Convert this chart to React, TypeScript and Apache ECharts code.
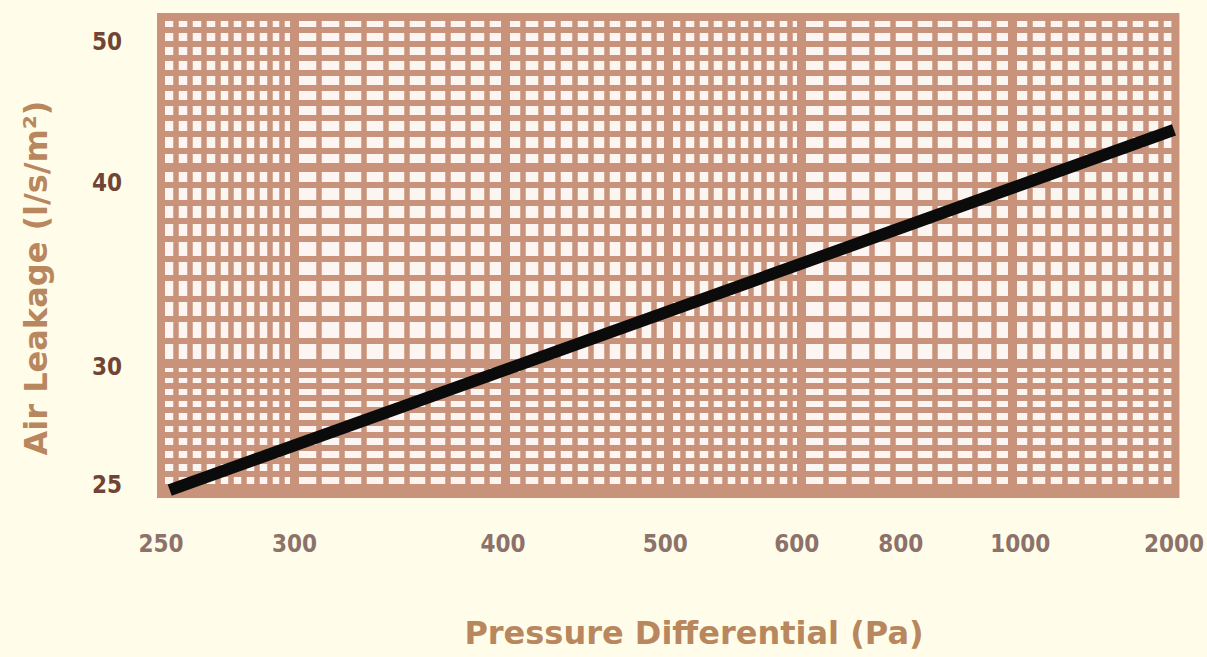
import React, { useEffect, useRef } from "react";
import * as echarts from "echarts";

// ---- data ----
const pressureTicks = [250, 300, 400, 500, 600, 800, 1000, 2000];
const leakageTicks = [25, 30, 40, 50];
const linePressure = [253, 2000];
const lineLeakage = [24.8, 43.5];

// ---- graph-paper rulings (paper units) ----
const paperXMajor = [300, 400, 500, 600, 800];
const paperYMajor = [30, 40];
const paperXFineRanges = [
  [250, 300, 5],
  [300, 600, 10],
  [600, 1000, 20],
];
const paperYFineRanges = [
  [25, 30, 0.5],
  [30, 50, 1],
];

// ---- layout: paper extents and where the printed labels sit on the paper ----
const PAPER_X = [250, 1000];
const PAPER_Y = [24.75, 49.9];
const xLabelAnchor = [250, 300, 399, 498, 596, 687, 809, 998];
const yLabelAnchor = [25.08, 29.83, 39.1, 48.1];

const BROWN = "#c8937a";
const PAPER_WHITE = "#fdf5f1";
const BG = "#fffde9";

const L = (v: number) => Math.log10(v);

function expandRanges(ranges: number[][]) {
  const out: number[] = [];
  ranges.forEach(([a, b, s]) => {
    const n = Math.round((b - a) / s);
    for (let i = 0; i <= n; i++) {
      const v = +(a + i * s).toFixed(4);
      if (out.indexOf(v) < 0) out.push(v);
    }
  });
  return out;
}

// piecewise log mapping from printed-label scale onto the paper (log10 units)
function toPaper(v: number, ticks: number[], anchors: number[]) {
  let i = 0;
  while (i < ticks.length - 2 && v > ticks[i + 1]) i++;
  const t = (L(v) - L(ticks[i])) / (L(ticks[i + 1]) - L(ticks[i]));
  return L(anchors[i]) + t * (L(anchors[i + 1]) - L(anchors[i]));
}

function labelFor(v: number, ticks: number[], anchors: number[]) {
  let best = 0;
  let bd = Infinity;
  anchors.forEach((a, i) => {
    const d = Math.abs(L(a) - v);
    if (d < bd) {
      bd = d;
      best = i;
    }
  });
  return String(ticks[best]);
}

const TICK_FONT = "'Liberation Sans Narrow', 'DejaVu Sans Condensed', 'Roboto', sans-serif";
const TITLE_FONT = "'DejaVu Sans', 'Liberation Sans', sans-serif";

export default function App() {
  const ref = useRef<HTMLDivElement>(null);

  useEffect(() => {
    if (!ref.current) return;
    const chart = echarts.init(ref.current, null, { renderer: "svg" });

    const xFine = expandRanges(paperXFineRanges);
    const yFine = expandRanges(paperYFineRanges);

    const hiddenX = (vals: number[], width: number) => ({
      type: "value",
      min: L(PAPER_X[0]),
      max: L(PAPER_X[1]),
      axisLine: { show: false },
      axisLabel: { show: false },
      axisTick: { show: false, customValues: vals.map(L) },
      splitLine: { show: true, lineStyle: { color: BROWN, width } },
    });
    const hiddenY = (vals: number[], width: number) => ({
      type: "value",
      min: L(PAPER_Y[0]),
      max: L(PAPER_Y[1]),
      axisLine: { show: false },
      axisLabel: { show: false },
      axisTick: { show: false, customValues: vals.map(L) },
      splitLine: { show: true, lineStyle: { color: BROWN, width } },
    });

    const lineData = linePressure.map((p, i) => [
      toPaper(p, pressureTicks, xLabelAnchor),
      toPaper(lineLeakage[i], leakageTicks, yLabelAnchor),
    ]);

    chart.setOption({
      animation: false,
      backgroundColor: BG,
      grid: {
        left: 161,
        top: 17,
        width: 1020,
        height: 477,
        show: true,
        backgroundColor: PAPER_WHITE,
        borderColor: BROWN,
        borderWidth: 8,
      },
      xAxis: [
        {
          type: "value",
          position: "bottom",
          min: L(PAPER_X[0]),
          max: L(PAPER_X[1]),
          axisLine: { show: false },
          axisTick: { show: false },
          splitLine: { show: false },
          axisLabel: {
            customValues: xLabelAnchor.map(L),
            formatter: (v: number) => labelFor(v, pressureTicks, xLabelAnchor),
            margin: 38,
            color: "#8c726b",
            fontFamily: TICK_FONT,
            fontWeight: "bold",
            fontSize: 24,
            showMinLabel: true,
            showMaxLabel: true,
          },
        },
        hiddenX(xFine, 5.5),
        hiddenX(paperXMajor, 9),
      ],
      yAxis: [
        {
          type: "value",
          position: "left",
          min: L(PAPER_Y[0]),
          max: L(PAPER_Y[1]),
          axisLine: { show: false },
          axisTick: { show: false },
          splitLine: { show: false },
          axisLabel: {
            customValues: yLabelAnchor.map(L),
            formatter: (v: number) => labelFor(v, leakageTicks, yLabelAnchor),
            margin: 39,
            color: "#704535",
            fontFamily: TICK_FONT,
            fontWeight: "bold",
            fontSize: 24,
            showMinLabel: true,
            showMaxLabel: true,
          },
        },
        hiddenY(yFine, 6),
        hiddenY(paperYMajor, 9),
      ],
      graphic: [
        {
          type: "text",
          x: 694,
          y: 633,
          style: {
            text: "Pressure Differential (Pa)",
            align: "center",
            verticalAlign: "middle",
            fill: "#b8875e",
            fontFamily: TITLE_FONT,
            fontWeight: "bold",
            fontSize: 32,
          },
        },
        {
          type: "text",
          x: 36,
          y: 278,
          rotation: Math.PI / 2,
          style: {
            text: "Air Leakage (l/s/m²)",
            align: "center",
            verticalAlign: "middle",
            fill: "#b8875e",
            fontFamily: TITLE_FONT,
            fontWeight: "bold",
            fontSize: 32,
          },
        },
      ],
      series: [
        {
          type: "line",
          xAxisIndex: 0,
          yAxisIndex: 0,
          data: lineData,
          symbol: "none",
          clip: false,
          lineStyle: { color: "#0b0b0b", width: 12, cap: "butt" },
          z: 5,
        },
      ],
    });

    return () => chart.dispose();
  }, []);

  return (
    <div
      ref={ref}
      style={{ position: "fixed", left: 0, top: 0, width: 1207, height: 657 }}
    />
  );
}
